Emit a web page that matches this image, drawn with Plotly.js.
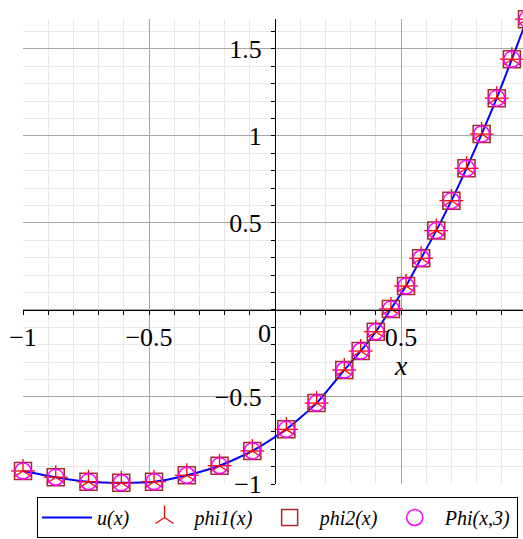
<!DOCTYPE html>
<html>
<head>
<meta charset="utf-8">
<script src="https://cdn.plot.ly/plotly-3.0.1.min.js"></script>
<style>
  html, body { margin: 0; padding: 0; background: #fff; overflow: hidden; }
  #plot { width: 527px; height: 539px; }
</style>
</head>
<body>
<div id="plot"></div>
<script>
// Collocation nodes and the values of the exact solution / approximations there
const xNodes = [-1, -0.87, -0.74, -0.61, -0.48, -0.35, -0.22, -0.09, 0.045, 0.165,
                0.275, 0.34, 0.40, 0.46, 0.52, 0.58, 0.64, 0.70, 0.76, 0.82, 0.88, 0.94, 1.0];
const uVals = [-0.925, -0.961, -0.987, -0.993, -0.987, -0.950, -0.895, -0.810, -0.686, -0.535,
               -0.345, -0.236, -0.125, 0.006, 0.138, 0.297, 0.456, 0.628, 0.814, 1.011, 1.217, 1.441, 1.671];
const phi1Vals = uVals.slice();
const phi2Vals = uVals.slice();
const PhiVals = uVals.slice();

const seriesNames = ['u(x)', 'phi1(x)', 'phi2(x)', 'Phi(x,3)'];

const xTickVals = [-1, -0.5, 0, 0.5, 1];
const xTickText = ['\u22121', '\u22120.5', '', '0.5', '1'];
const yTickVals = [-1, -0.5, 0, 0.5, 1, 1.5];
const yTickText = ['\u22121', '\u22120.5', '', '0.5', '1', '1.5'];

const xRange = [-1, 1];
const yRange = [-1, 1.672];

const serif = "'Liberation Serif', 'Times New Roman', serif";

const traces = [
  {
    x: xNodes, y: uVals, name: seriesNames[0], type: 'scatter', mode: 'lines',
    line: { color: '#0000ff', width: 2, shape: 'spline', smoothing: 0.6 }
  },
  {
    x: xNodes, y: phi1Vals, name: seriesNames[1], type: 'scatter', mode: 'markers',
    legendgroup: 'phi1', cliponaxis: false,
    marker: { symbol: 'y-up-open', size: 15, line: { color: '#ff0000', width: 1.3 }, color: '#ff0000' }
  },
  {
    x: xNodes, y: phi1Vals, name: seriesNames[1], type: 'scatter', mode: 'markers',
    legendgroup: 'phi1', showlegend: false, cliponaxis: false,
    marker: { symbol: 'line-ew-open', size: 17, line: { color: '#ff0000', width: 1.3 }, color: '#ff0000' }
  },
  {
    x: xNodes, y: phi2Vals, name: seriesNames[2], type: 'scatter', mode: 'markers',
    cliponaxis: false,
    marker: { symbol: 'square-open', size: 17, line: { color: '#a52a2a', width: 1.5 }, color: '#a52a2a' }
  },
  {
    x: xNodes, y: PhiVals, name: seriesNames[3], type: 'scatter', mode: 'markers',
    cliponaxis: false,
    marker: { symbol: 'circle-open', size: 16, line: { color: '#ff00ff', width: 1.5 }, color: '#ff00ff' }
  }
];

const axisCommon = {
  showline: true, linecolor: '#000', linewidth: 1.3,
  ticks: 'outside', ticklen: 4, tickcolor: '#000', tickwidth: 1,
  showgrid: true, gridcolor: '#a6a6a6', gridwidth: 1,
  zeroline: false, tickmode: 'array',
  tickfont: { family: serif, size: 26, color: '#000' },
  minor: {
    tickmode: 'linear', tick0: 0, dtick: 0.1,
    ticks: 'outside', ticklen: 4, tickcolor: '#000', tickwidth: 1,
    showgrid: true, gridcolor: '#e8e8e8', gridwidth: 1
  },
  fixedrange: true
};

const layout = {
  width: 527, height: 539,
  margin: { l: 23, r: 0, t: 19, b: 55, autoexpand: false },
  paper_bgcolor: '#fff', plot_bgcolor: '#fff',
  showlegend: true,
  xaxis: Object.assign({}, axisCommon, {
    range: xRange, tickvals: xTickVals, ticktext: xTickText,
    anchor: 'free', position: (0 - yRange[0]) / (yRange[1] - yRange[0])
  }),
  yaxis: Object.assign({}, axisCommon, {
    range: yRange, tickvals: yTickVals, ticktext: yTickText,
    ticklabelstandoff: 4,
    anchor: 'free', position: (0 - xRange[0]) / (xRange[1] - xRange[0])
  }),
  annotations: [
    { text: '0', x: 0, y: 0, xref: 'x', yref: 'y', xshift: -11, yshift: -24,
      showarrow: false, font: { family: serif, size: 26, color: '#000' } },
    { text: 'x', x: 0.5, y: 0, xref: 'x', yref: 'y', yshift: -56,
      showarrow: false, font: { family: serif, size: 28, color: '#000', style: 'italic' } }
  ],
  legend: {
    orientation: 'h', x: 0.0278, y: -0.1161, xanchor: 'left', yanchor: 'bottom',
    bordercolor: '#000', borderwidth: 1, bgcolor: '#fff',
    itemwidth: 50,
    font: { family: serif, size: 20, color: '#000', style: 'italic' }
  }
};

Plotly.newPlot('plot', traces, layout, { displayModeBar: false, staticPlot: true });
</script>
</body>
</html>
